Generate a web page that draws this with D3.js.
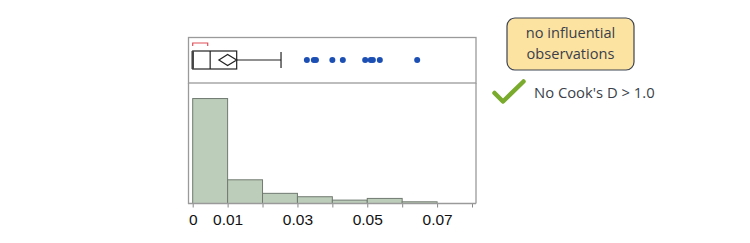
<!DOCTYPE html>
<html>
<head>
<meta charset="utf-8">
<script src="https://cdn.jsdelivr.net/npm/d3@7"></script>
<style>
  body { margin: 0; background: #fff; }
  svg { display: block; }
</style>
</head>
<body>
<div id="chart"></div>
<script>
// histogram bins (Cook's D) and counts
var binStarts = [0, 0.01, 0.02, 0.03, 0.04, 0.05, 0.06];
var binCounts = [62, 14, 6, 4, 2, 3, 1];
var binWidth = 0.01;

// box plot summary
var boxMin = 0, boxQ1 = 0, boxMedian = 0.005, boxQ3 = 0.0126, whiskerHi = 0.0253;
var boxMean = 0.01, meanCiLo = 0.0075, meanCiHi = 0.0126;
var shortestHalf = [0, 0.0043];
var outliers = [0.0327, 0.0347, 0.0353, 0.0400, 0.0430, 0.0494, 0.0510, 0.0516, 0.0536, 0.0643];

var tickValues = [0, 0.01, 0.02, 0.03, 0.04, 0.05, 0.06, 0.07, 0.08];
var tickLabels = ["0", "0.01", "", "0.03", "", "0.05", "", "0.07", ""];

var noteLines = ["no influential", "observations"];
var checkText = "No Cook's D > 1.0";

var svg = d3.select("#chart").append("svg")
  .attr("width", 750)
  .attr("height", 243);

var x = d3.scaleLinear().domain([0, 0.08]).range([192.7, 472]);
var y = d3.scaleLinear().domain([0, 70]).range([203.5, 85]);

var frameColor = "#9a9a9a";

//box panel frame
svg.append("rect")
  .attr("x", 188.5).attr("y", 37.5)
  .attr("width", 287.5).attr("height", 45.5)
  .attr("fill", "none").attr("stroke", frameColor).attr("stroke-width", 1.3);

//histogram panel sides
svg.append("line").attr("x1", 188.5).attr("x2", 188.5).attr("y1", 83).attr("y2", 204)
  .attr("stroke", frameColor).attr("stroke-width", 1.3);
svg.append("line").attr("x1", 476).attr("x2", 476).attr("y1", 83).attr("y2", 203.5)
  .attr("stroke", frameColor).attr("stroke-width", 1.3);

//bars
svg.selectAll("rect.bar")
  .data(binStarts)
  .enter()
    .append("rect")
    .attr("class", "bar")
    .attr("x", function(d){ return x(d); })
    .attr("width", function(d){ return x(d + binWidth) - x(d); })
    .attr("y", function(d, i){ return y(binCounts[i]); })
    .attr("height", function(d, i){ return y(0) - y(binCounts[i]); })
    .attr("fill", "#bccdb9")
    .attr("stroke", "#707a70")
    .attr("stroke-width", 1);

//x axis
var axis = d3.axisBottom(x)
  .tickValues(tickValues)
  .tickSize(4)
  .tickPadding(6)
  .tickFormat(function(d, i){ return tickLabels[i]; });

var gx = svg.append("g")
  .attr("transform", "translate(0," + y(0) + ")")
  .call(axis);
gx.select(".domain").remove();
gx.append("line").attr("x1", 188).attr("x2", 476).attr("y1", 0).attr("y2", 0)
  .attr("stroke", frameColor).attr("stroke-width", 1.3);
gx.selectAll(".tick line").attr("stroke", "#888");
gx.selectAll(".tick text")
  .attr("font-family", "Liberation Sans, Arial, sans-serif")
  .attr("font-size", 15.5)
  .attr("fill", "#111");

//box plot
var cy = 60;
var boxG = svg.append("g");
boxG.append("line").attr("x1", x(boxQ3)).attr("x2", x(whiskerHi)).attr("y1", cy).attr("y2", cy)
  .attr("stroke", "#222").attr("stroke-width", 1.2);
boxG.append("line").attr("x1", x(whiskerHi)).attr("x2", x(whiskerHi)).attr("y1", cy - 8).attr("y2", cy + 8)
  .attr("stroke", "#222").attr("stroke-width", 1.2);
boxG.append("rect")
  .attr("x", x(boxQ1)).attr("y", 51)
  .attr("width", x(boxQ3) - x(boxQ1)).attr("height", 18)
  .attr("fill", "none").attr("stroke", "#222").attr("stroke-width", 1.2);
boxG.append("line").attr("x1", x(boxMin)).attr("x2", x(boxMin)).attr("y1", 51).attr("y2", 69)
  .attr("stroke", "#444").attr("stroke-width", 2.5);
boxG.append("line").attr("x1", x(boxMedian)).attr("x2", x(boxMedian)).attr("y1", 51).attr("y2", 69)
  .attr("stroke", "#222").attr("stroke-width", 1.2);
//mean diamond
boxG.append("path")
  .attr("d", "M" + x(meanCiLo) + "," + cy + "L" + x(boxMean) + "," + (cy - 5.5) +
             "L" + x(meanCiHi) + "," + cy + "L" + x(boxMean) + "," + (cy + 5.5) + "Z")
  .attr("fill", "none").attr("stroke", "#222").attr("stroke-width", 1.2);
//shortest half bracket
boxG.append("path")
  .attr("d", "M" + x(shortestHalf[0]) + ",46V43H" + x(shortestHalf[1]) + "V46")
  .attr("fill", "none").attr("stroke", "#e0505a").attr("stroke-width", 1.2);

//outlier points
boxG.selectAll("circle")
  .data(outliers)
  .enter()
    .append("circle")
    .attr("cx", function(d){ return x(d); })
    .attr("cy", cy)
    .attr("r", 3)
    .attr("fill", "#1c4fb4");

//note box
var note = svg.append("g");
note.append("rect")
  .attr("x", 507).attr("y", 18)
  .attr("width", 127).attr("height", 52)
  .attr("rx", 8).attr("ry", 8)
  .attr("fill", "#fde3a2").attr("stroke", "#3c4452").attr("stroke-width", 1.2);
note.selectAll("text")
  .data(noteLines)
  .enter()
    .append("text")
    .text(function(d){ return d; })
    .attr("x", 570.5)
    .attr("y", function(d, i){ return 38 + i * 21; })
    .attr("text-anchor", "middle")
    .attr("font-family", "Open Sans, sans-serif")
    .attr("font-size", 14.6)
    .attr("fill", "#3a3f4a");

//check mark
svg.append("path")
  .attr("d", "M494.5,93L503,101.5L523.5,81.5")
  .attr("fill", "none").attr("stroke", "#7aab2c").attr("stroke-width", 4.5)
  .attr("stroke-linecap", "round").attr("stroke-linejoin", "round");
svg.append("text")
  .text(checkText)
  .attr("x", 534).attr("y", 97.5)
  .attr("font-family", "Open Sans, sans-serif")
  .attr("font-size", 14.8)
  .attr("fill", "#3a3f4a");
</script>
</body>
</html>
